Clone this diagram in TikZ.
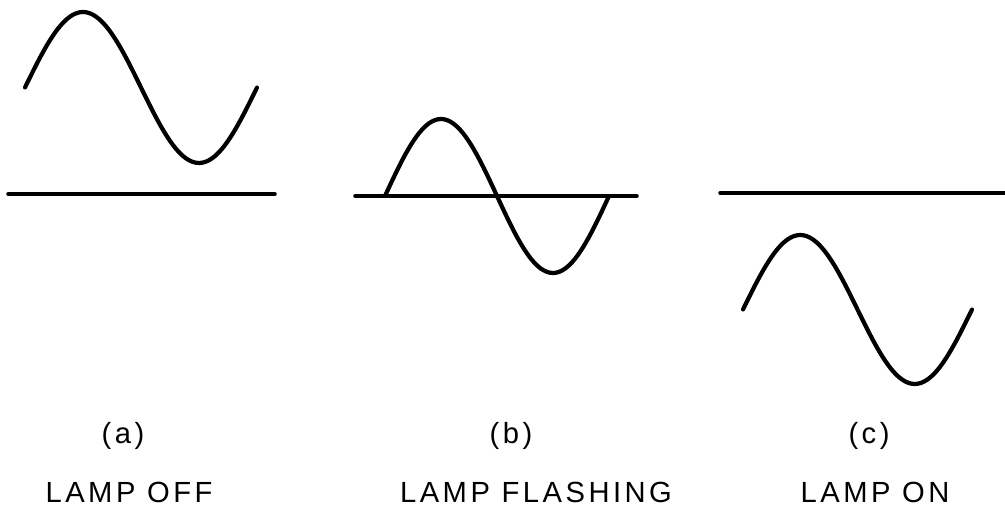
\documentclass[tikz,border=0pt]{standalone}
\usepackage{fontspec}
\newfontfamily\letterfont[LetterSpace=12]{Liberation Sans}
\usetikzlibrary{positioning}
\tikzset{
  baseline/.style={line width=2pt, line cap=round},
  wave/.style={line width=2.4pt, line cap=round, smooth},
  caption/.style={font=\fontsize{16.6}{18}\letterfont, inner sep=0pt}
}

\begin{document}
\begin{tikzpicture}[x=0.02cm, y=-0.02cm]
  \useasboundingbox (0,0) rectangle (1005,506);
  % ── (a) lamp off ──
  \draw[baseline] (8,194) -- (275,194);
  \draw[wave] plot[domain=0:1, samples=73] ({25+232*\x}, {87.5-75.5*sin(360*\x)});
  \node[caption] (capa) at (123,436) {(a)};
  \node[caption] (lampa) at (129,492) {LAMP OFF};
  % ── (b) lamp flashing ──
  \draw[baseline] (355,196) -- (637,196);
  \draw[wave] plot[domain=0:1, samples=73] ({385+224*\x}, {196-77*sin(360*\x)});
  \node[caption] (capb) at (511,436) {(b)};
  \node[caption] (lampb) at (536,492) {LAMP FLASHING};
  % ── (c) lamp on ──
  \draw[baseline] (720,193) -- (1005,193);
  \draw[wave] plot[domain=0:1, samples=73] ({743+229*\x}, {309.5-74.5*sin(360*\x)});
  \node[caption] (capc) at (869,436) {(c)};
  \node[caption] (lampc) at (875,492) {LAMP ON};
\end{tikzpicture}
\end{document}
